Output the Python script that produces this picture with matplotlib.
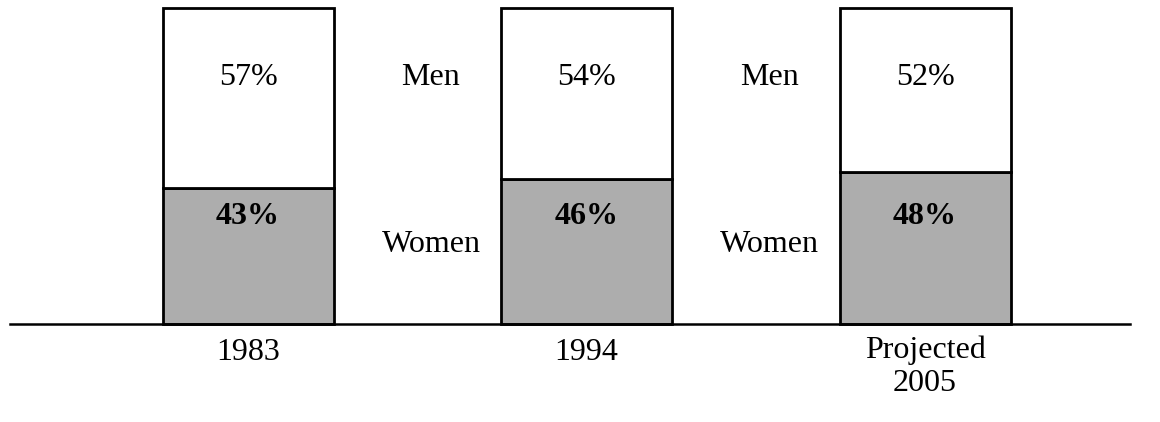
import matplotlib.pyplot as plt

# data
years = ['1983', '1994', 'Projected\n2005']
women = [43, 46, 48]
men = [57, 54, 52]

plt.rcParams['font.family'] = ['Liberation Serif', 'DejaVu Serif']

fig = plt.figure(figsize=(11.6, 4.22), dpi=100)
ax = fig.add_axes([0, 0, 1, 1])
ax.set_xlim(-0.733, 2.694)
ax.set_ylim(-31, 102.5)
ax.axis('off')

x = list(range(len(years)))
w = 0.505

# stacked bars: women at the bottom (grey), men on top (white)
ax.bar(x, women, width=w, color='#adadad', edgecolor='black', linewidth=2, zorder=2)
ax.bar(x, men, width=w, bottom=women, color='white', edgecolor='black', linewidth=2, zorder=2)

# baseline
ax.axhline(0, xmin=0.009, xmax=0.974, color='black', linewidth=1.8, zorder=3)

fs = 23
for i in x:
    ax.text(i, 78, f'{men[i]}%', ha='center', va='center', fontsize=fs)
    ax.text(i, 34, f'{women[i]}%', ha='center', va='center', fontsize=fs, fontweight='bold')
    ax.text(i, -9 if i < 2 else -13.5, years[i], ha='center', va='center', fontsize=fs,
            linespacing=1.2)

# series labels between the bars
for i in x[:-1]:
    ax.text(i + 0.54, 78, 'Men', ha='center', va='center', fontsize=fs)
    ax.text(i + 0.54, 25, 'Women', ha='center', va='center', fontsize=fs)

fig.savefig('out.png', dpi=100)
